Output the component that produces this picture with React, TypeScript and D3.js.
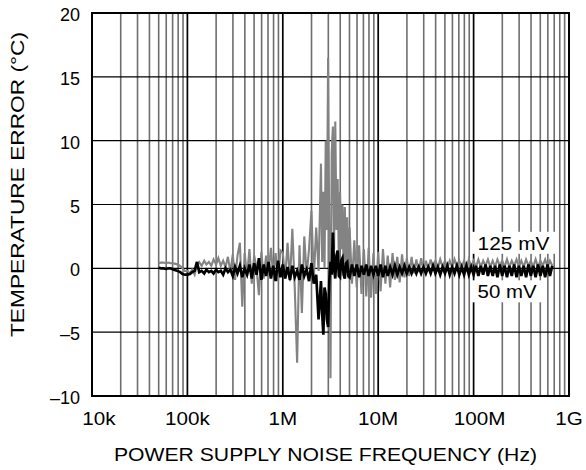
import * as d3 from "d3";

// frequency points (kHz), shared by both traces
const FREQ_KHZ = [
  50, 53, 56, 60, 63, 67, 71, 75, 79, 84, 89, 94,
  100, 106, 112, 119, 126, 133, 141, 150, 158, 168, 178, 188, 200, 211, 224, 237, 251, 266, 282, 299,
  316, 335, 355, 376, 398, 422, 447, 473, 501, 531, 562, 596, 631, 668, 708, 750, 794, 841, 891, 944,
  1000, 1059, 1122, 1189, 1259, 1334, 1413, 1496, 1585, 1679, 1778, 1884, 1995, 2113, 2239, 2371,
  2512, 2585, 2661, 2738, 2818, 2900, 2985, 3072, 3162, 3255, 3350, 3448, 3548, 3652, 3758, 3868,
  3981, 4097, 4217, 4340, 4467, 4597, 4732, 4870, 5012,
  5309, 5623, 5957, 6310, 6683, 7079, 7499, 7943, 8414, 8913, 9441,
  10000, 10590, 11220, 11890, 12590, 13340, 14130, 14960, 15850, 16790, 17780, 18840, 19950, 21130,
  22390, 23710, 25120, 26610, 28180, 29850, 31620, 33500, 35480, 37580, 39810, 42170, 44670, 47320,
  50120, 53090, 56230, 59570, 63100, 66830, 70790, 74990, 79430, 84140, 89130, 94410,
  100000, 105900, 112200, 118900, 125900, 133400, 141300, 149600, 158500, 167900, 177800, 188400,
  199500, 211300, 223900, 237100, 251200, 266100, 281800, 298500, 316200, 335000, 354800, 375800,
  398100, 421700, 446700, 473200, 501200, 530900, 562300, 595700, 631000, 668300,
];

// temperature error (°C), 125 mV noise
const ERR_125MV = [
  0.4, 0.45, 0.45, 0.4, 0.45, 0.4, 0.4, 0.35, 0.3, 0.2, 0.0, -0.2,
  -0.2, -0.4, -0.1, -0.5, 0.3, 0.5, 0.2, 0.6, 0.3, 0.5, 0.2, 0.7, 0.3, 0.8, 0.2, 0.6, 0.1, 0.9, -0.3, 1.1,
  -0.9, 1.0, 2.0, -3.0, 1.2, -0.6, 1.5, -1.2, 1.0, 0.0, -2.1, 1.3, -0.8, 1.0, -0.4, 1.6, -0.6, 1.2, -1.0, 1.4,
  1.2, -0.8, 2.0, -1.0, 3.1, -1.5, -7.4, 1.8, -3.5, 2.5, -0.5, 1.5, 4.5, -0.8, 3.2, -0.2,
  8.2, 0.5, 6.0, 0.0, 10.0, 3.0, 16.5, 2.0, -8.6, 9.0, 11.1, 1.5, 11.5, 3.0, 7.0, 0.5,
  6.0, 1.5, 5.0, 0.0, 4.8, 0.5, 4.0, -0.8, 3.2,
  -1.2, 2.2, -1.5, 1.8, -2.0, 1.5, -2.2, 1.6, -2.3, 1.2, -2.0,
  1.3, -1.8, 1.5, -1.2, 1.0, -1.5, 1.2, -0.9, 0.9, -1.1, 1.1, -0.7, 0.8, -0.6,
  0.9, -0.4, 0.7, -0.3, 0.8, -0.2, 0.6, -0.1, 0.7, 0.0, 0.6, 0.0, 0.7, 0.1,
  0.6, 0.0, 0.6, 0.1, 0.7, 0.1, 0.6, 0.1, 0.6, 0.0, 0.7, 0.1,
  0.6, 0.1, 0.7, 0.1, 0.6, 0.2, 0.7, 0.1, 0.6, 0.1, 0.7, 0.2,
  0.6, 0.1, 0.7, 0.1, 0.6, 0.2, 0.7, 0.1, 0.6, 0.1, 0.7, 0.2,
  0.6, 0.1, 0.7, 0.1, 0.6, 0.2, 0.7, 0.1, 0.6, 0.2,
];

// temperature error (°C), 50 mV noise
const ERR_50MV = [
  0.05, 0.0, 0.0, -0.05, 0.0, 0.0, -0.1, -0.15, -0.2, -0.3, -0.45, -0.5,
  -0.5, -0.45, -0.3, -0.2, 0.5, -0.3, -0.2, -0.4, -0.1, -0.3, -0.2, -0.4, -0.1, -0.3, -0.2, -0.5, 0.0, -0.3, -0.1, -0.6,
  0.1, -0.4, 0.2, -0.7, 0.0, -0.5, 0.3, -0.8, 0.4, -0.5, 0.8, -0.9, 0.3, -0.6, 0.5, -0.8, 0.2, -1.0, 0.6, -0.7,
  0.3, -0.8, 0.1, -0.9, 0.2, -0.7, -0.2, -0.9, 0.3, -0.6, -0.1, -1.0, 0.4, -1.2, -0.5, -4.0,
  -1.0, -3.5, -5.2, -1.5, -2.0, -4.0, -4.6, -1.0, 0.5, -0.5, 2.8, 0.0, -0.8, 1.0, 1.4, -0.6,
  -0.7, 0.6, 0.8, -0.5, -0.8, 0.4, 0.5, -0.6, -0.7,
  0.3, -0.6, 0.3, -0.7, 0.2, -0.5, 0.3, -0.6, 0.2, -0.5, 0.2,
  -0.6, 0.3, -0.7, 0.2, -0.6, 0.1, -0.5, 0.2, -0.5, 0.1, -0.4, 0.2, -0.4, 0.1,
  -0.4, 0.1, -0.4, 0.1, -0.4, 0.1, -0.4, 0.1, -0.4, 0.2, -0.4, 0.1, -0.5, 0.1,
  -0.4, 0.2, -0.5, 0.1, -0.4, 0.2, -0.5, 0.1, -0.5, 0.2, -0.5, 0.1,
  -0.5, 0.2, -0.6, 0.2, -0.5, 0.3, -0.6, 0.2, -0.6, 0.2, -0.7, 0.3,
  -0.6, 0.2, -0.7, 0.2, -0.6, 0.3, -0.7, 0.2, -0.6, 0.2, -0.7, 0.3,
  -0.6, 0.2, -0.7, 0.3, -0.6, 0.2, -0.7, 0.3, -0.6, 0.2,
];

const X_TICKS = [1e4, 1e5, 1e6, 1e7, 1e8, 1e9];
const X_TICK_LABELS = ["10k", "100k", "1M", "10M", "100M", "1G"];
const Y_TICKS = [-10, -5, 0, 5, 10, 15, 20];
const Y_TICK_LABELS = ["\u201310", "\u20135", "0", "5", "10", "15", "20"];

const TRACE_LABELS = [
  { text: "125 mV", freq: 1.1e8, value: 2.0, len: 72 },
  { text: "50 mV", freq: 1.1e8, value: -1.8, len: 59 },
];

const W = 586;
const H = 470;
const m = { top: 13, right: 17, bottom: 74, left: 92 };
const FONT = "'Liberation Sans', Arial, Helvetica, sans-serif";

export default function App() {
  const x = d3.scaleLog().domain([1e4, 1e9]).range([m.left, W - m.right]);
  const y = d3.scaleLinear().domain([-10, 20]).range([H - m.bottom, m.top]);

  const line = d3
    .line<number>()
    .x((_, i) => x(FREQ_KHZ[i] * 1e3))
    .y((d) => y(d));

  const gridX = x.ticks();
  const isDecade = (v: number) => Math.abs(Math.log10(v) - Math.round(Math.log10(v))) < 1e-6;

  return (
    <svg
      width={W}
      height={H}
      style={{ position: "absolute", left: 0, top: 0, background: "#fff" }}
      fontFamily={FONT}
    >
      {/* minor vertical grid */}
      {gridX
        .filter((v) => !isDecade(v))
        .map((v) => (
          <line key={"mx" + v} x1={x(v)} x2={x(v)} y1={m.top} y2={H - m.bottom} stroke="#6e6e6e" strokeWidth={1.6} />
        ))}
      {/* decade lines */}
      {X_TICKS.map((v) => (
        <line key={"dx" + v} x1={x(v)} x2={x(v)} y1={m.top} y2={H - m.bottom} stroke="#000" strokeWidth={1.7} />
      ))}
      {/* horizontal grid */}
      {Y_TICKS.map((v) => (
        <line key={"gy" + v} x1={m.left} x2={W - m.right} y1={y(v)} y2={y(v)} stroke="#000" strokeWidth={1.2} />
      ))}

      <path d={line(ERR_125MV) ?? ""} fill="none" stroke="#838383" strokeWidth={2.1} strokeLinejoin="miter" />
      <path d={line(ERR_50MV) ?? ""} fill="none" stroke="#000" strokeWidth={2.7} strokeLinejoin="miter" />

      <rect
        x={m.left}
        y={m.top}
        width={W - m.left - m.right}
        height={H - m.top - m.bottom}
        fill="none"
        stroke="#000"
        strokeWidth={2}
      />

      {TRACE_LABELS.map((l) => (
        <g key={l.text}>
          <rect x={x(l.freq) - 6} y={y(l.value) - 11} width={l.len + 12} height={22} fill="#fff" />
          <text
            x={x(l.freq)}
            y={y(l.value) + 7}
            fontSize={18}
            textLength={l.len}
            lengthAdjust="spacingAndGlyphs"
            fill="#000"
          >
            {l.text}
          </text>
        </g>
      ))}

      {Y_TICKS.map((v, i) => (
        <text key={"yl" + v} x={80} y={y(v) + 8} fontSize={18} textAnchor="end" fill="#000">
          {Y_TICK_LABELS[i]}
        </text>
      ))}

      {X_TICKS.map((v, i) => {
        const dx = i === 0 ? 7 : v === 1e8 ? 6 : 0;
        return (
          <text
            key={"xl" + v}
            transform={`translate(${x(v) + dx},${H - m.bottom + 29}) scale(1.18,1)`}
            fontSize={17.5}
            textAnchor="middle"
            fill="#000"
          >
            {X_TICK_LABELS[i]}
          </text>
        );
      })}

      <text
        x={325.5}
        y={461}
        fontSize={18}
        textAnchor="middle"
        textLength={423}
        lengthAdjust="spacingAndGlyphs"
        fill="#000"
      >
        POWER SUPPLY NOISE FREQUENCY (Hz)
      </text>
      <text
        transform={`translate(24,${(m.top + H - m.bottom) / 2 - 20}) rotate(-90)`}
        fontSize={18}
        textAnchor="middle"
        textLength={305}
        lengthAdjust="spacingAndGlyphs"
        fill="#000"
      >
        TEMPERATURE ERROR (°C)
      </text>
    </svg>
  );
}
